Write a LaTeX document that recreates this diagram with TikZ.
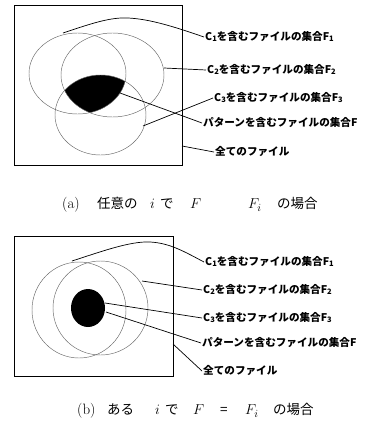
\documentclass[tikz,border=0pt]{standalone}
\usepackage{fontspec}
\newfontfamily\jpg{Noto Sans CJK JP}
\tikzset{
  venn/.style={draw=black!60, line width=0.45pt},
  lead/.style={draw=black, line width=0.7pt},
  frame/.style={draw=black, line width=0.9pt},
  lab/.style={anchor=west, inner sep=1pt, font=\jpg\bfseries\fontsize{10.6}{12}\selectfont},
  captext/.style={anchor=west, inner sep=0pt, font=\fontsize{15}{17}\selectfont}
}
\newcommand{\sbn}[1]{\raisebox{-0.3pt}{\fontsize{7.5}{7.5}\selectfont #1}}
\newcommand{\jp}[1]{{\jpg\fontsize{13.5}{15}\selectfont #1}}
\newcommand{\pc}[2]{\makebox[#1pt][l]{#2}}
\begin{document}
\begin{tikzpicture}[x=1pt,y=-1pt]
\useasboundingbox (0,0) rectangle (381,423);
% ---------- panel (a) ----------
\draw[frame] (14,5) rectangle (182,165);
\begin{scope}
  \clip (77.5,73.5) ellipse [x radius=48.5, y radius=40.5];
  \clip (112.5,75) ellipse [x radius=51.5, y radius=42];
  \fill[black] (100.5,115) ellipse [x radius=45.5, y radius=40];
\end{scope}
\draw[venn] (77.5,73.5) ellipse [x radius=48.5, y radius=40.5];
\draw[venn] (112.5,75) ellipse [x radius=51.5, y radius=42];
\draw[venn] (100.5,115) ellipse [x radius=45.5, y radius=40];
\node[lab] (a1) at (204,37) {C\sbn{1}を含むファイルの集合F\sbn{1}};
\node[lab] (a2) at (206,70) {C\sbn{2}を含むファイルの集合F\sbn{2}};
\node[lab] (a3) at (213,98) {C\sbn{3}を含むファイルの集合F\sbn{3}};
\node[lab] (a4) at (202,123) {パターンを含むファイルの集合F};
\node[lab] (a5) at (214,152) {全てのファイル};
\coordinate (a1s) at (63,33);
\coordinate (a2s) at (164,68);
\coordinate (a3s) at (143,126);
\coordinate (a4s) at (120,93);
\coordinate (a5s) at (182,146);
\draw[lead] (a1s) .. controls (90,24) and (110,17) .. (128,18) .. controls (150,19) and (175,27) .. (a1.west);
\draw[lead] (a2s) -- (a2.west);
\draw[lead] (a3s) -- (a3.west);
\draw[lead] (a4s) -- (a4.west);
\draw[lead] (a5s) -- (a5.west);
\node[captext] (capa) at (62,205) {\pc{35}{(a)}\pc{53}{\jp{任意の}}\pc{10}{$i$}\pc{30}{\jp{で}}\pc{58}{$F$}\pc{29}{$F_i$}\jp{の場合}};
% ---------- panel (b) ----------
\draw[frame] (14,236) rectangle (173,376);
\draw[venn] (79,310) ellipse [x radius=47, y radius=48];
\draw[venn] (100.5,308) ellipse [x radius=47.5, y radius=47];
\fill[black] (88,308) ellipse [x radius=17, y radius=19];
\node[lab] (b1) at (204,262) {C\sbn{1}を含むファイルの集合F\sbn{1}};
\node[lab] (b2) at (202,290) {C\sbn{2}を含むファイルの集合F\sbn{2}};
\node[lab] (b3) at (202,318) {C\sbn{3}を含むファイルの集合F\sbn{3}};
\node[lab] (b4) at (201,343) {パターンを含むファイルの集合F};
\node[lab] (b5) at (202,371) {全てのファイル};
\coordinate (b1s) at (72,261);
\coordinate (b2s) at (142,281);
\coordinate (b3s) at (105,303);
\coordinate (b4s) at (106,312);
\coordinate (b5s) at (173,344);
\draw[lead] (b1s) .. controls (100,252) and (130,241) .. (150,242) .. controls (170,243) and (185,252) .. (b1.west);
\draw[lead] (b2s) -- (b2.west);
\draw[lead] (b3s) -- (b3.west);
\draw[lead] (b4s) -- (b4.west);
\draw[lead] (b5s) -- (b5.west);
\node[captext] (capb) at (77,411) {\pc{30}{(b)}\pc{48}{\jp{ある}}\pc{10}{$i$}\pc{28}{\jp{で}}\pc{27}{$F$}\pc{25}{\jp{=}}\pc{28}{$F_i$}\jp{の場合}};
\end{tikzpicture}
\end{document}
